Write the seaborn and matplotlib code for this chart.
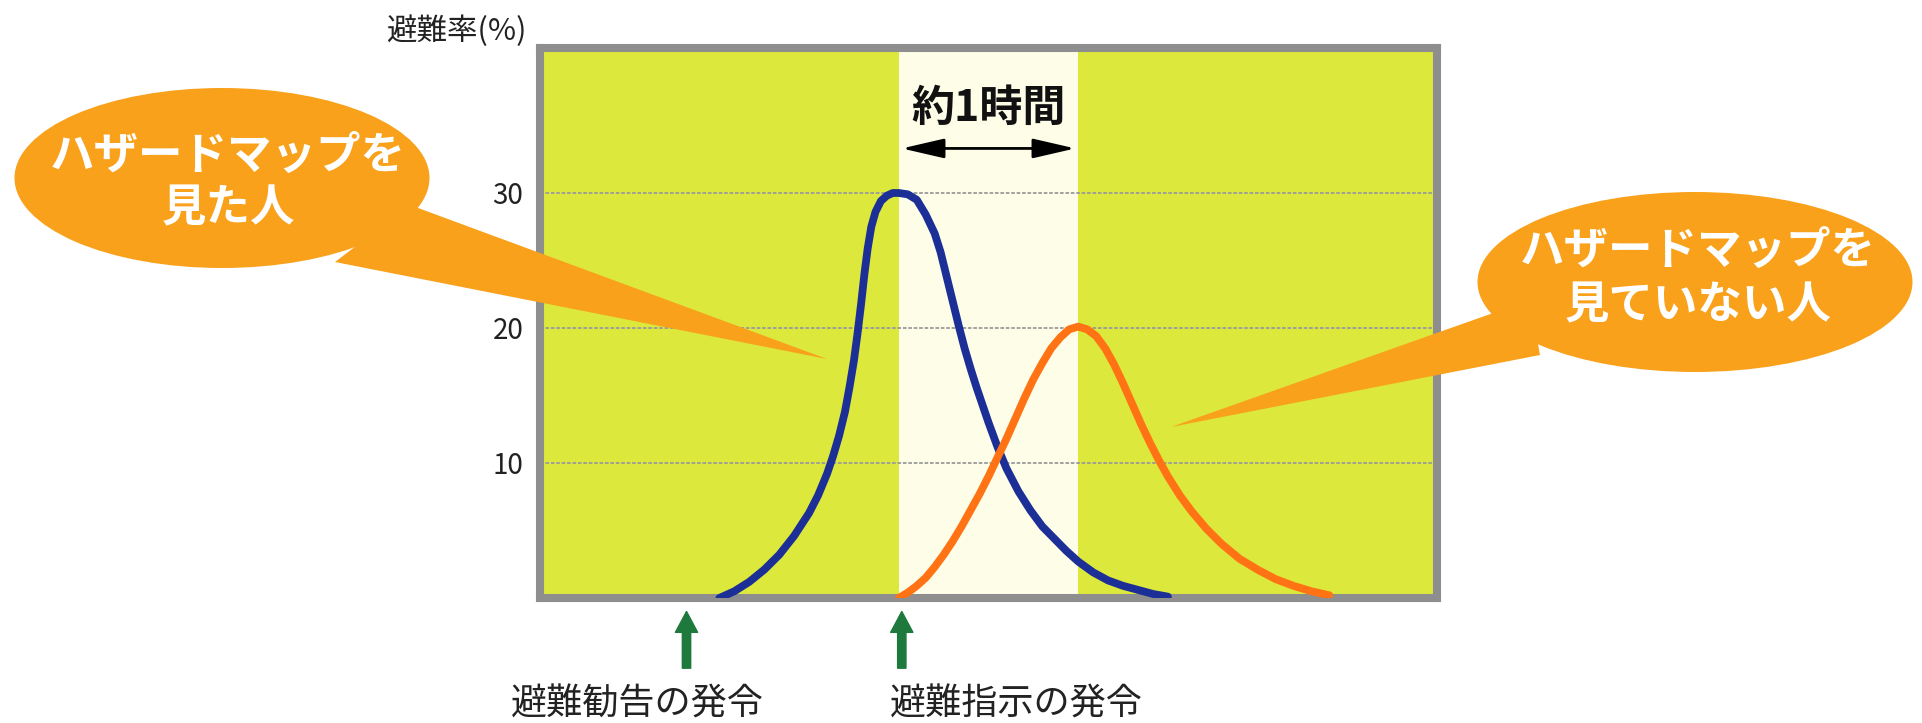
import numpy as np
import pandas as pd
import matplotlib
matplotlib.use("Agg")
import matplotlib.pyplot as plt
from matplotlib.patches import Ellipse, Polygon
import seaborn as sns

# --- data (minutes relative to evacuation order, evacuation rate %) ---
saw_map_t = [-60, -55, -50, -45, -40, -35, -30, -27, -24, -22, -20, -18, -16.5, -15, -13.8, -12.6,
             -11.5, -10.4, -9.2, -7.8, -6, -4, -2, 0, 3, 6, 9, 12, 14, 16, 18, 20, 22, 24, 26, 28,
             30, 33, 36, 40, 44, 48, 52, 56, 60, 65, 70, 75, 80, 85, 90]
saw_map_v = [0, 0.5, 1.2, 2.1, 3.2, 4.6, 6.3, 7.6, 9.2, 10.5, 12.0, 13.8, 15.6, 17.6, 19.6, 21.8,
             24.0, 25.9, 27.5, 28.6, 29.4, 29.8, 30.0, 30.0, 29.9, 29.5, 28.4, 27.0, 25.6, 23.8, 22.0,
             20.2, 18.5, 17.0, 15.6, 14.3, 13.0, 11.2, 9.6, 7.9, 6.5, 5.3, 4.4, 3.5, 2.7, 1.9, 1.3,
             0.9, 0.6, 0.3, 0.1]

no_map_t = [0, 3, 6, 9, 12, 15, 18, 21, 24, 27, 30, 33, 36, 39, 42, 45, 48, 51, 54, 57, 60, 63,
            66, 69, 72, 75, 78, 81, 84, 87, 90, 94, 98, 103, 108, 114, 120, 126, 132, 138, 144]
no_map_v = [0, 0.4, 0.9, 1.5, 2.3, 3.2, 4.2, 5.3, 6.5, 7.7, 9.0, 10.4, 11.8, 13.3, 14.8, 16.2,
            17.4, 18.5, 19.3, 19.9, 20.1, 19.9, 19.4, 18.5, 17.3, 15.9, 14.4, 12.9, 11.5, 10.2,
            9.0, 7.6, 6.4, 5.1, 4.0, 2.9, 2.1, 1.4, 0.9, 0.5, 0.2]

series_names = ["ハザードマップを見た人", "ハザードマップを見ていない人"]
y_ticks = [10, 20, 30]
band = [0, 60]                      # 約1時間
event_times = [-71, 1]
event_labels = ["避難勧告の発令", "避難指示の発令"]

df = pd.concat([
    pd.DataFrame({"t": saw_map_t, "rate": saw_map_v, "group": series_names[0]}),
    pd.DataFrame({"t": no_map_t, "rate": no_map_v, "group": series_names[1]}),
])

sns.set_theme(style="white")
plt.rcParams["font.family"] = ["Noto Sans CJK JP", "DejaVu Sans"]

fig = plt.figure(figsize=(19.22, 7.23), dpi=100)
ax = fig.add_axes([540 / 1922, 1 - 598 / 723, 897 / 1922, 550 / 723])
ax.set_facecolor("#dce83c")
ax.axvspan(band[0], band[1], color="#fdfde8", zorder=0.3, lw=0)

sns.lineplot(data=df, x="t", y="rate", hue="group",
             palette={series_names[0]: "#1b2f96", series_names[1]: "#ff7314"},
             linewidth=5.6, legend=False, sort=False, ax=ax, zorder=3,
             solid_joinstyle="round", solid_capstyle="round")

ax.set_xlim(-120, 180)
ax.set_ylim(0, 40.74)
ax.set_xticks([])
ax.set_yticks(y_ticks)
ax.set_yticklabels([str(v) for v in y_ticks], fontsize=20, color="#222222")
ax.tick_params(axis="y", length=0, pad=12)
ax.set_xlabel("")
ax.set_ylabel("")
ax.set_axisbelow(True)
ax.yaxis.grid(True, color="#9a9a9a", linestyle=(0, (2, 1)), linewidth=1.3)
for sp in ax.spines.values():
    sp.set_color("#8e8e8e")
    sp.set_linewidth(5.8)
    sp.set_visible(True)

# y label at top left
ax.text(-148, 42.0, "避難率(%)", fontsize=22, color="#222222",
        ha="center", va="center", clip_on=False)

# 約1時間 double arrow
ax.annotate("", xy=(band[1] - 1, 33.3), xytext=(band[0] + 1, 33.3),
            arrowprops=dict(arrowstyle="<|-|>,head_length=1.3,head_width=0.3",
                            color="black", lw=2, mutation_scale=20,
                            shrinkA=0, shrinkB=0))
ax.text(30, 36.3, "約1時間", fontsize=31, fontweight="bold", color="#111111",
        ha="center", va="center")

# green arrows and labels below the chart
label_x = [-87.6, 39.2]
for t, lab, lx in zip(event_times, event_labels, label_x):
    ax.annotate("", xy=(t, -1.0), xytext=(t, -5.2), annotation_clip=False,
                arrowprops=dict(width=6, headwidth=16, headlength=15,
                                color="#1e7a3c", shrink=0))
    ax.text(lx, -7.9, lab, fontsize=26, color="#222222", ha="center",
            va="center", clip_on=False)

# speech bubbles (figure pixel overlay)
ov = fig.add_axes([0, 0, 1, 1], zorder=5)
ov.set_xlim(0, 1922)
ov.set_ylim(723, 0)
ov.axis("off")
ov.patch.set_alpha(0)
bubble = "#f9a11b"

ov.add_patch(Ellipse((222, 178), 415, 180, color=bubble, lw=0))
ov.add_patch(Polygon([(410, 205), (827, 359), (335, 262)], color=bubble, lw=0))
ov.text(228, 156, "ハザードマップを", fontsize=32, fontweight="bold",
        color="white", ha="center", va="center")
ov.text(228, 208, "見た人", fontsize=32, fontweight="bold",
        color="white", ha="center", va="center")

ov.add_patch(Ellipse((1695, 282), 435, 180, color=bubble, lw=0))
ov.add_patch(Polygon([(1530, 300), (1171, 427), (1540, 355)], color=bubble, lw=0))
ov.text(1698, 251, "ハザードマップを", fontsize=32, fontweight="bold",
        color="white", ha="center", va="center")
ov.text(1698, 305, "見ていない人", fontsize=32, fontweight="bold",
        color="white", ha="center", va="center")

fig.savefig("out.png", dpi=100)
